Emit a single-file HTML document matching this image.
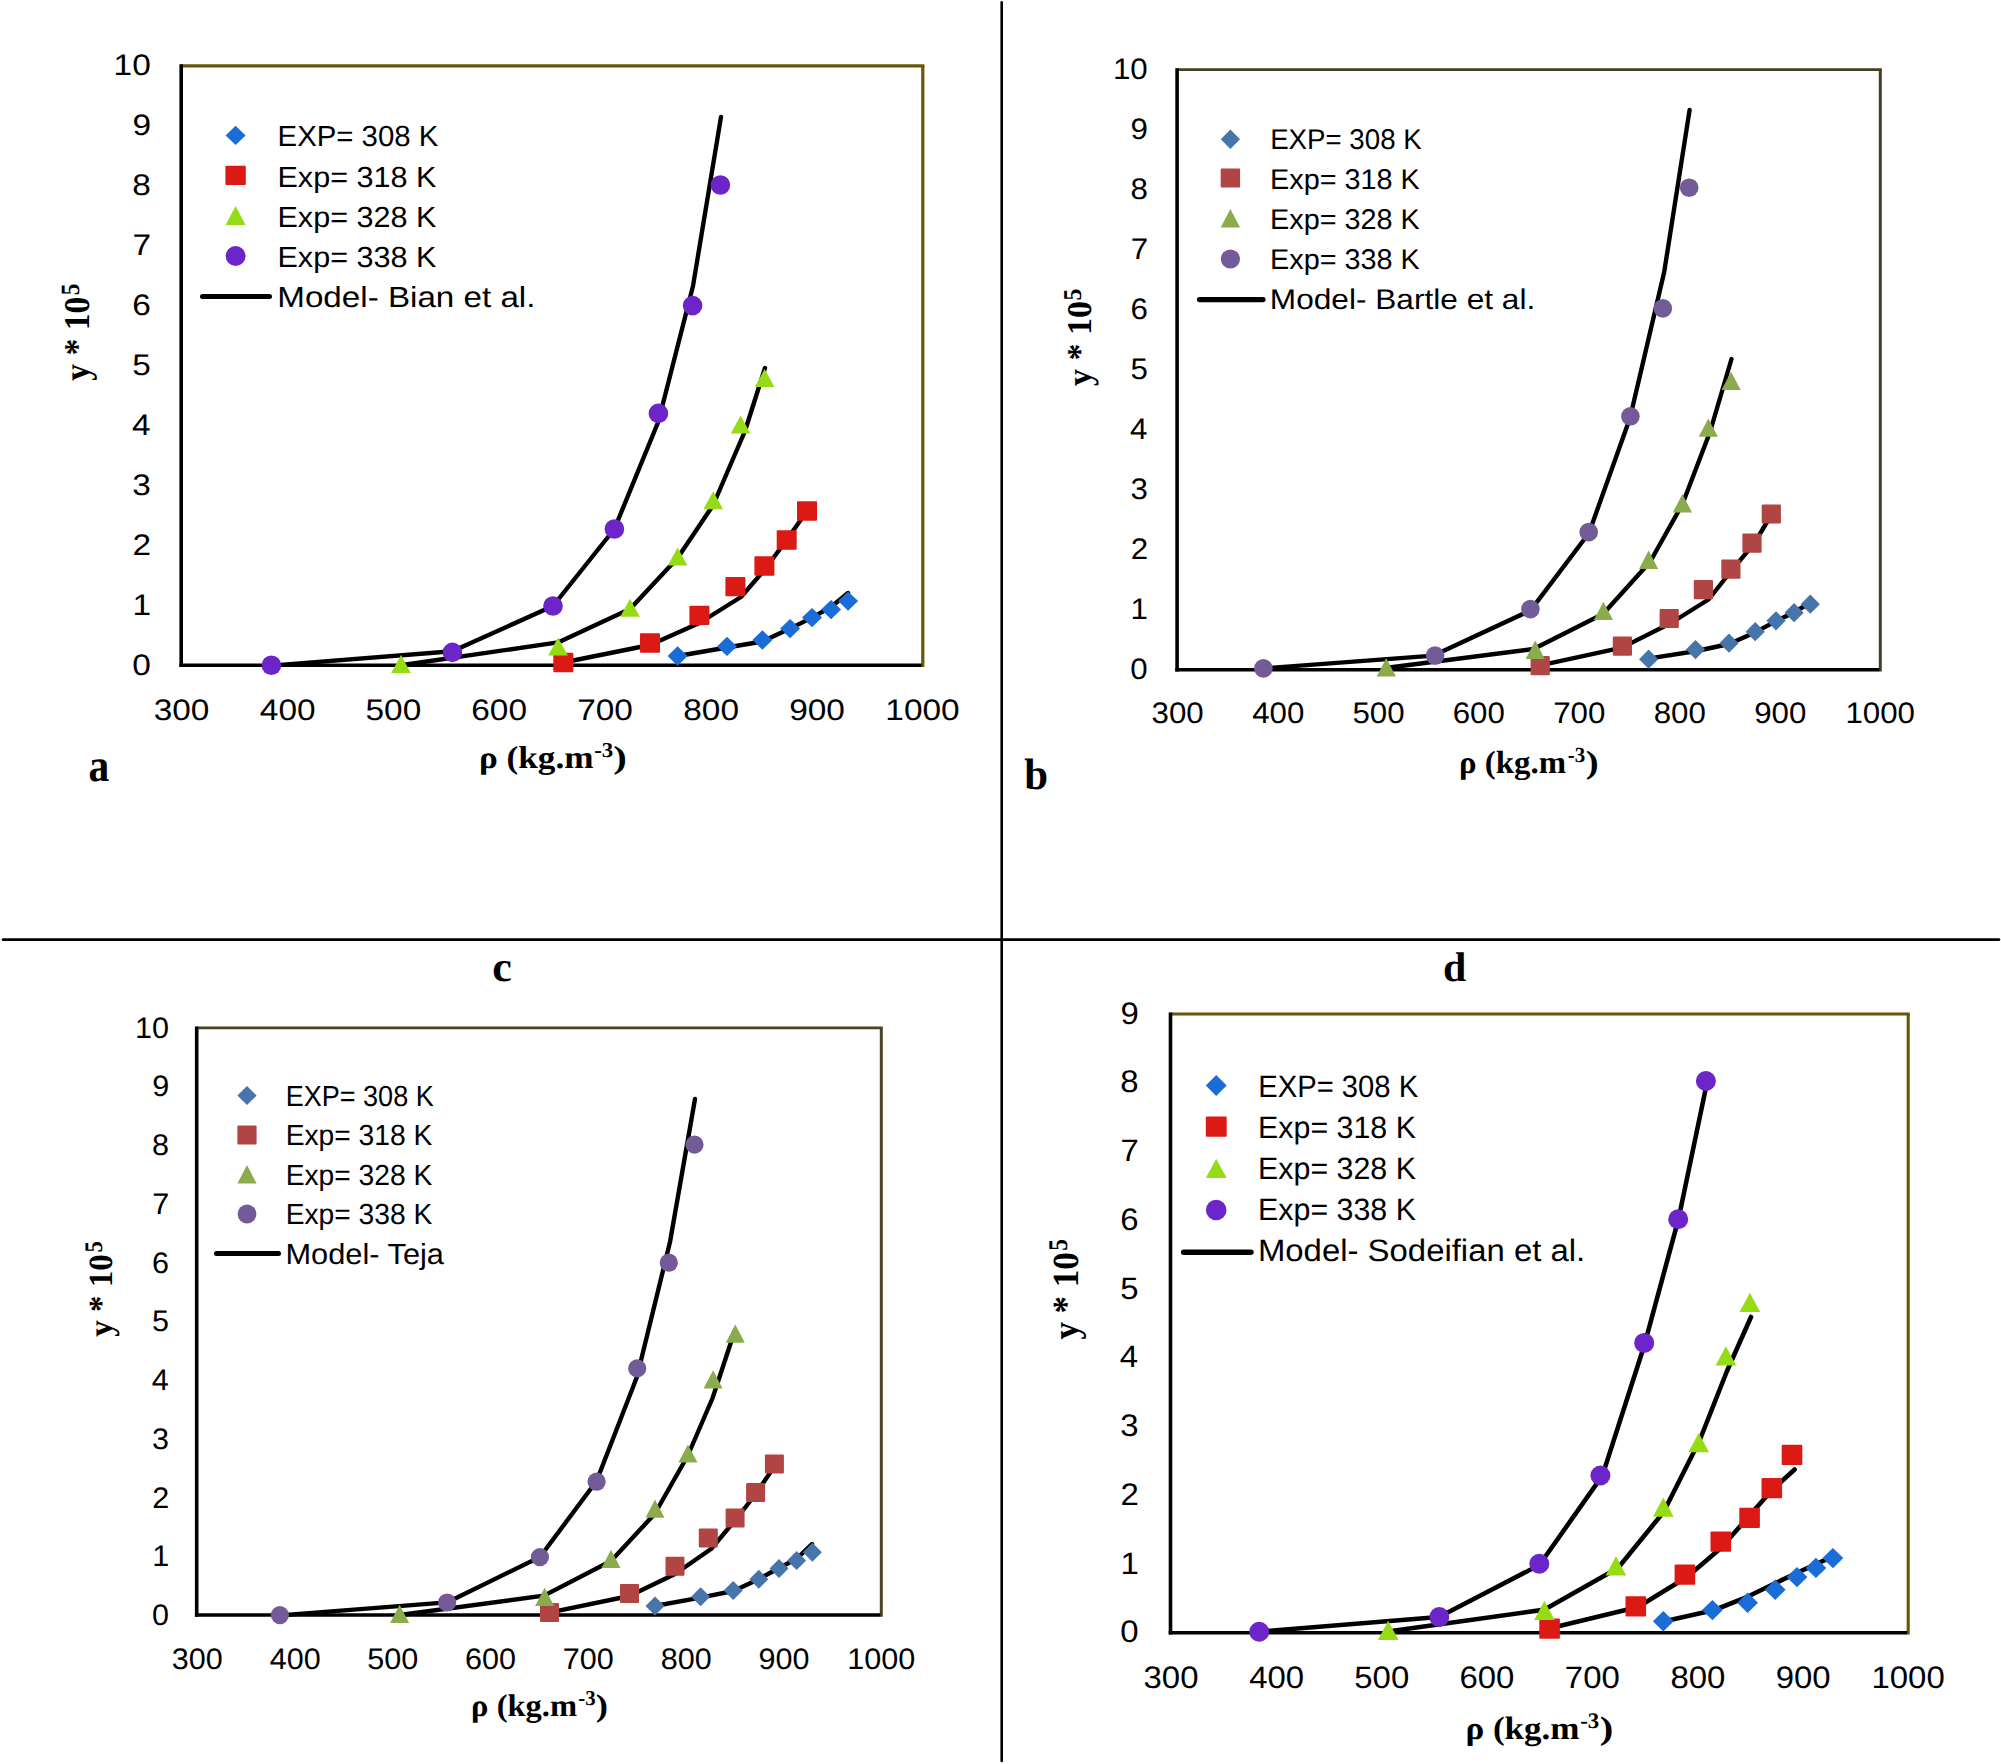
<!DOCTYPE html>
<html lang="en"><head><meta charset="utf-8"><title>Solubility vs density: model correlations</title>
<style>html,body{margin:0;padding:0;background:#fff}svg{display:block}text{white-space:pre}</style></head>
<body><svg width="2001" height="1764" viewBox="0 0 2001 1764" text-rendering="geometricPrecision">
<rect width="2001" height="1764" fill="#fff"/>
<g id="panel-a">
<line x1="181.20" y1="65.80" x2="924.40" y2="65.80" stroke="#685708" stroke-width="3.3" stroke-linecap="butt"/>
<line x1="922.80" y1="65.80" x2="922.80" y2="666.90" stroke="#685708" stroke-width="3.2" stroke-linecap="butt"/>
<line x1="181.20" y1="64.15" x2="181.20" y2="666.95" stroke="#000" stroke-width="3.6" stroke-linecap="butt"/>
<line x1="179.40" y1="665.20" x2="921.70" y2="665.20" stroke="#000" stroke-width="3.5" stroke-linecap="butt"/>
<polyline points="677.6,656.0 727.0,647.5 762.4,641.5 790.0,628.6 812.0,617.6 831.0,607.0 848.0,593.0" fill="none" stroke="#000" stroke-width="4.4" stroke-linejoin="round" stroke-linecap="round"/>
<polyline points="563.3,662.5 650.0,645.0 699.4,623.0 741.0,597.0 764.4,570.0 786.6,540.0 807.0,511.0" fill="none" stroke="#000" stroke-width="4.4" stroke-linejoin="round" stroke-linecap="round"/>
<polyline points="401.0,665.2 558.0,642.4 630.0,609.0 677.6,558.0 713.2,505.0 745.0,431.0 765.0,368.0" fill="none" stroke="#000" stroke-width="4.4" stroke-linejoin="round" stroke-linecap="round"/>
<polyline points="271.4,665.6 452.4,651.2 553.0,606.0 614.4,529.0 658.4,421.5 693.0,286.0 721.0,117.0" fill="none" stroke="#000" stroke-width="4.4" stroke-linejoin="round" stroke-linecap="round"/>
<polygon points="667.6,656.0 677.6,646.3 687.6,656.0 677.6,665.7" fill="#1a6dd6"/>
<polygon points="717.0,646.4 727.0,636.7 737.0,646.4 727.0,656.1" fill="#1a6dd6"/>
<polygon points="752.4,640.0 762.4,630.3 772.4,640.0 762.4,649.7" fill="#1a6dd6"/>
<polygon points="780.1,628.6 790.1,618.9 800.1,628.6 790.1,638.3" fill="#1a6dd6"/>
<polygon points="802.0,617.6 812.0,607.9 822.0,617.6 812.0,627.3" fill="#1a6dd6"/>
<polygon points="821.1,609.6 831.1,599.9 841.1,609.6 831.1,619.3" fill="#1a6dd6"/>
<polygon points="838.1,601.1 848.1,591.4 858.1,601.1 848.1,610.8" fill="#1a6dd6"/>
<rect x="553.3" y="652.8" width="20.0" height="19.4" rx="1" fill="#db1a16"/>
<rect x="640.0" y="633.3" width="20.0" height="19.4" rx="1" fill="#db1a16"/>
<rect x="689.4" y="605.7" width="20.0" height="19.4" rx="1" fill="#db1a16"/>
<rect x="725.4" y="576.9" width="20.0" height="19.4" rx="1" fill="#db1a16"/>
<rect x="754.4" y="556.3" width="20.0" height="19.4" rx="1" fill="#db1a16"/>
<rect x="776.7" y="530.3" width="20.0" height="19.4" rx="1" fill="#db1a16"/>
<rect x="797.0" y="501.3" width="20.0" height="19.4" rx="1" fill="#db1a16"/>
<polygon points="391.2,673.0 401.0,655.0 410.8,673.0" fill="#96dc14"/>
<polygon points="548.2,655.5 558.0,637.5 567.8,655.5" fill="#96dc14"/>
<polygon points="620.2,616.8 630.0,598.8 639.8,616.8" fill="#96dc14"/>
<polygon points="667.8,565.6 677.6,547.6 687.4,565.6" fill="#96dc14"/>
<polygon points="703.4,509.3 713.2,491.3 723.0,509.3" fill="#96dc14"/>
<polygon points="730.8,433.6 740.6,415.6 750.4,433.6" fill="#96dc14"/>
<polygon points="754.8,387.0 764.6,369.0 774.4,387.0" fill="#96dc14"/>
<circle cx="271.4" cy="665.2" r="9.8" fill="#6b25c8"/>
<circle cx="452.4" cy="652.4" r="9.8" fill="#6b25c8"/>
<circle cx="553.0" cy="606.0" r="9.8" fill="#6b25c8"/>
<circle cx="614.4" cy="529.0" r="9.8" fill="#6b25c8"/>
<circle cx="658.4" cy="413.4" r="9.8" fill="#6b25c8"/>
<circle cx="692.6" cy="305.6" r="9.8" fill="#6b25c8"/>
<circle cx="720.4" cy="185.0" r="9.8" fill="#6b25c8"/>
<text transform="translate(132.19,674.70) scale(1.1265,1)" font-family="'Liberation Sans',sans-serif" font-weight="normal" font-size="29.66" fill="#000">0</text>
<text transform="translate(132.53,614.76) scale(1.1265,1)" font-family="'Liberation Sans',sans-serif" font-weight="normal" font-size="29.66" fill="#000">1</text>
<text transform="translate(132.59,554.82) scale(1.1265,1)" font-family="'Liberation Sans',sans-serif" font-weight="normal" font-size="29.66" fill="#000">2</text>
<text transform="translate(132.36,494.88) scale(1.1265,1)" font-family="'Liberation Sans',sans-serif" font-weight="normal" font-size="29.66" fill="#000">3</text>
<text transform="translate(131.89,434.94) scale(1.1265,1)" font-family="'Liberation Sans',sans-serif" font-weight="normal" font-size="29.66" fill="#000">4</text>
<text transform="translate(132.29,375.00) scale(1.1265,1)" font-family="'Liberation Sans',sans-serif" font-weight="normal" font-size="29.66" fill="#000">5</text>
<text transform="translate(132.36,315.06) scale(1.1265,1)" font-family="'Liberation Sans',sans-serif" font-weight="normal" font-size="29.66" fill="#000">6</text>
<text transform="translate(132.59,255.12) scale(1.1265,1)" font-family="'Liberation Sans',sans-serif" font-weight="normal" font-size="29.66" fill="#000">7</text>
<text transform="translate(132.36,195.18) scale(1.1265,1)" font-family="'Liberation Sans',sans-serif" font-weight="normal" font-size="29.66" fill="#000">8</text>
<text transform="translate(132.49,135.24) scale(1.1265,1)" font-family="'Liberation Sans',sans-serif" font-weight="normal" font-size="29.66" fill="#000">9</text>
<text transform="translate(113.62,75.30) scale(1.1265,1)" font-family="'Liberation Sans',sans-serif" font-weight="normal" font-size="29.66" fill="#000">10</text>
<text transform="translate(153.63,720.20) scale(1.1265,1)" font-family="'Liberation Sans',sans-serif" font-weight="normal" font-size="29.66" fill="#000">300</text>
<text transform="translate(259.84,720.20) scale(1.1265,1)" font-family="'Liberation Sans',sans-serif" font-weight="normal" font-size="29.66" fill="#000">400</text>
<text transform="translate(365.49,720.20) scale(1.1265,1)" font-family="'Liberation Sans',sans-serif" font-weight="normal" font-size="29.66" fill="#000">500</text>
<text transform="translate(471.26,720.20) scale(1.1265,1)" font-family="'Liberation Sans',sans-serif" font-weight="normal" font-size="29.66" fill="#000">600</text>
<text transform="translate(577.19,720.20) scale(1.1265,1)" font-family="'Liberation Sans',sans-serif" font-weight="normal" font-size="29.66" fill="#000">700</text>
<text transform="translate(683.26,720.20) scale(1.1265,1)" font-family="'Liberation Sans',sans-serif" font-weight="normal" font-size="29.66" fill="#000">800</text>
<text transform="translate(789.16,720.20) scale(1.1265,1)" font-family="'Liberation Sans',sans-serif" font-weight="normal" font-size="29.66" fill="#000">900</text>
<text transform="translate(885.31,720.20) scale(1.1265,1)" font-family="'Liberation Sans',sans-serif" font-weight="normal" font-size="29.66" fill="#000">1000</text>
<polygon points="225.6,135.4 235.6,125.7 245.6,135.4 235.6,145.1" fill="#1a6dd6"/>
<rect x="225.4" y="165.8" width="20.4" height="19.2" rx="1" fill="#db1a16"/>
<polygon points="225.6,225.0 235.6,206.0 245.6,225.0" fill="#96dc14"/>
<circle cx="235.6" cy="256.0" r="10.0" fill="#6b25c8"/>
<line x1="202.50" y1="296.60" x2="269.50" y2="296.60" stroke="#000" stroke-width="5" stroke-linecap="round"/>
<text transform="translate(277.59,146.00) scale(1.0097,1)" font-family="'Liberation Sans',sans-serif" font-weight="normal" font-size="29.07" fill="#000">EXP= 308 K</text>
<text transform="translate(277.49,186.50) scale(1.0512,1)" font-family="'Liberation Sans',sans-serif" font-weight="normal" font-size="29.07" fill="#000">Exp= 318 K</text>
<text transform="translate(277.49,226.80) scale(1.0512,1)" font-family="'Liberation Sans',sans-serif" font-weight="normal" font-size="29.07" fill="#000">Exp= 328 K</text>
<text transform="translate(277.49,267.00) scale(1.0512,1)" font-family="'Liberation Sans',sans-serif" font-weight="normal" font-size="29.07" fill="#000">Exp= 338 K</text>
<text transform="translate(277.28,307.00) scale(1.1415,1)" font-family="'Liberation Sans',sans-serif" font-weight="normal" font-size="29.07" fill="#000">Model- Bian et al.</text>
<text transform="translate(89.00,380.80) rotate(-90) scale(0.9288,1)" font-family="'Liberation Serif',serif" font-weight="bold" font-size="36.21" fill="#000">y * 10</text>
<text transform="translate(78.70,295.23) rotate(-90) scale(0.8840,1)" font-family="'Liberation Serif',serif" font-weight="bold" font-size="26.41" fill="#000">5</text>
<text transform="translate(478.92,768.00) scale(1.1107,1)" font-family="'Liberation Serif',serif" font-weight="bold" font-size="31.70" fill="#000">ρ (kg.m</text>
<text transform="translate(594.17,756.50) scale(1.0845,1)" font-family="'Liberation Serif',serif" font-weight="bold" font-size="21.15" fill="#000">-3</text>
<text transform="translate(613.20,768.00) scale(1.2838,1)" font-family="'Liberation Serif',serif" font-weight="bold" font-size="31.70" fill="#000">)</text>
<text transform="translate(88.47,780.70) scale(0.8970,1)" font-family="'Liberation Serif',serif" font-weight="bold" font-size="46.27" fill="#000">a</text>
</g>
<g id="panel-b">
<line x1="1177.10" y1="69.70" x2="1881.80" y2="69.70" stroke="#453f22" stroke-width="2.7" stroke-linecap="butt"/>
<line x1="1880.30" y1="69.70" x2="1880.30" y2="671.40" stroke="#453f22" stroke-width="3.0" stroke-linecap="butt"/>
<line x1="1177.10" y1="68.35" x2="1177.10" y2="671.45" stroke="#000" stroke-width="3.6" stroke-linecap="butt"/>
<line x1="1175.30" y1="669.70" x2="1879.30" y2="669.70" stroke="#000" stroke-width="3.5" stroke-linecap="butt"/>
<polyline points="1648.0,658.6 1696.6,651.0 1729.0,644.0 1755.0,632.4 1775.6,621.4 1793.4,612.5 1810.0,603.0" fill="none" stroke="#000" stroke-width="4.4" stroke-linejoin="round" stroke-linecap="round"/>
<polyline points="1539.0,665.6 1622.0,647.6 1671.0,623.0 1708.5,599.5 1732.0,570.0 1754.5,543.0 1770.0,517.0" fill="none" stroke="#000" stroke-width="4.4" stroke-linejoin="round" stroke-linecap="round"/>
<polyline points="1385.4,668.0 1533.6,649.0 1603.0,614.0 1650.0,562.0 1682.5,504.0 1710.0,432.0 1731.5,359.0" fill="none" stroke="#000" stroke-width="4.4" stroke-linejoin="round" stroke-linecap="round"/>
<polyline points="1263.0,668.4 1433.6,655.6 1530.6,610.4 1589.0,533.0 1630.0,418.0 1664.2,272.0 1689.6,110.0" fill="none" stroke="#000" stroke-width="4.4" stroke-linejoin="round" stroke-linecap="round"/>
<polygon points="1639.0,659.2 1648.6,649.6 1658.2,659.2 1648.6,668.8" fill="#4674ab"/>
<polygon points="1685.9,649.6 1695.5,640.0 1705.1,649.6 1695.5,659.2" fill="#4674ab"/>
<polygon points="1719.4,643.2 1729.0,633.6 1738.6,643.2 1729.0,652.8" fill="#4674ab"/>
<polygon points="1745.6,631.7 1755.2,622.1 1764.8,631.7 1755.2,641.3" fill="#4674ab"/>
<polygon points="1766.4,620.8 1776.0,611.2 1785.6,620.8 1776.0,630.4" fill="#4674ab"/>
<polygon points="1784.5,612.7 1794.1,603.1 1803.7,612.7 1794.1,622.3" fill="#4674ab"/>
<polygon points="1800.7,604.2 1810.3,594.6 1819.9,604.2 1810.3,613.8" fill="#4674ab"/>
<rect x="1530.6" y="656.1" width="19.2" height="19.2" rx="1" fill="#b04543"/>
<rect x="1612.8" y="636.6" width="19.2" height="19.2" rx="1" fill="#b04543"/>
<rect x="1659.6" y="608.9" width="19.2" height="19.2" rx="1" fill="#b04543"/>
<rect x="1693.8" y="580.1" width="19.2" height="19.2" rx="1" fill="#b04543"/>
<rect x="1721.3" y="559.5" width="19.2" height="19.2" rx="1" fill="#b04543"/>
<rect x="1742.4" y="533.5" width="19.2" height="19.2" rx="1" fill="#b04543"/>
<rect x="1761.7" y="504.4" width="19.2" height="19.2" rx="1" fill="#b04543"/>
<polygon points="1376.7,676.4 1386.3,658.0 1395.9,676.4" fill="#8cab4c"/>
<polygon points="1525.6,658.9 1535.2,640.5 1544.8,658.9" fill="#8cab4c"/>
<polygon points="1593.8,620.1 1603.4,601.7 1613.0,620.1" fill="#8cab4c"/>
<polygon points="1639.0,568.9 1648.6,550.5 1658.2,568.9" fill="#8cab4c"/>
<polygon points="1672.8,512.5 1682.4,494.1 1692.0,512.5" fill="#8cab4c"/>
<polygon points="1698.7,436.8 1708.3,418.4 1717.9,436.8" fill="#8cab4c"/>
<polygon points="1721.5,390.1 1731.1,371.7 1740.7,390.1" fill="#8cab4c"/>
<circle cx="1263.4" cy="668.4" r="9.3" fill="#735b98"/>
<circle cx="1435.1" cy="655.6" r="9.3" fill="#735b98"/>
<circle cx="1530.4" cy="609.1" r="9.3" fill="#735b98"/>
<circle cx="1588.7" cy="532.1" r="9.3" fill="#735b98"/>
<circle cx="1630.4" cy="416.3" r="9.3" fill="#735b98"/>
<circle cx="1662.8" cy="308.4" r="9.3" fill="#735b98"/>
<circle cx="1689.2" cy="187.7" r="9.3" fill="#735b98"/>
<text transform="translate(1130.30,679.40) scale(1.0546,1)" font-family="'Liberation Sans',sans-serif" font-weight="normal" font-size="29.66" fill="#000">0</text>
<text transform="translate(1130.61,619.40) scale(1.0546,1)" font-family="'Liberation Sans',sans-serif" font-weight="normal" font-size="29.66" fill="#000">1</text>
<text transform="translate(1130.67,559.40) scale(1.0546,1)" font-family="'Liberation Sans',sans-serif" font-weight="normal" font-size="29.66" fill="#000">2</text>
<text transform="translate(1130.45,499.40) scale(1.0546,1)" font-family="'Liberation Sans',sans-serif" font-weight="normal" font-size="29.66" fill="#000">3</text>
<text transform="translate(1130.02,439.40) scale(1.0546,1)" font-family="'Liberation Sans',sans-serif" font-weight="normal" font-size="29.66" fill="#000">4</text>
<text transform="translate(1130.39,379.40) scale(1.0546,1)" font-family="'Liberation Sans',sans-serif" font-weight="normal" font-size="29.66" fill="#000">5</text>
<text transform="translate(1130.45,319.40) scale(1.0546,1)" font-family="'Liberation Sans',sans-serif" font-weight="normal" font-size="29.66" fill="#000">6</text>
<text transform="translate(1130.67,259.40) scale(1.0546,1)" font-family="'Liberation Sans',sans-serif" font-weight="normal" font-size="29.66" fill="#000">7</text>
<text transform="translate(1130.45,199.40) scale(1.0546,1)" font-family="'Liberation Sans',sans-serif" font-weight="normal" font-size="29.66" fill="#000">8</text>
<text transform="translate(1130.58,139.40) scale(1.0546,1)" font-family="'Liberation Sans',sans-serif" font-weight="normal" font-size="29.66" fill="#000">9</text>
<text transform="translate(1112.91,79.40) scale(1.0546,1)" font-family="'Liberation Sans',sans-serif" font-weight="normal" font-size="29.66" fill="#000">10</text>
<text transform="translate(1151.51,723.40) scale(1.0546,1)" font-family="'Liberation Sans',sans-serif" font-weight="normal" font-size="29.66" fill="#000">300</text>
<text transform="translate(1252.22,723.40) scale(1.0546,1)" font-family="'Liberation Sans',sans-serif" font-weight="normal" font-size="29.66" fill="#000">400</text>
<text transform="translate(1352.40,723.40) scale(1.0546,1)" font-family="'Liberation Sans',sans-serif" font-weight="normal" font-size="29.66" fill="#000">500</text>
<text transform="translate(1452.70,723.40) scale(1.0546,1)" font-family="'Liberation Sans',sans-serif" font-weight="normal" font-size="29.66" fill="#000">600</text>
<text transform="translate(1553.14,723.40) scale(1.0546,1)" font-family="'Liberation Sans',sans-serif" font-weight="normal" font-size="29.66" fill="#000">700</text>
<text transform="translate(1653.72,723.40) scale(1.0546,1)" font-family="'Liberation Sans',sans-serif" font-weight="normal" font-size="29.66" fill="#000">800</text>
<text transform="translate(1754.13,723.40) scale(1.0546,1)" font-family="'Liberation Sans',sans-serif" font-weight="normal" font-size="29.66" fill="#000">900</text>
<text transform="translate(1845.42,723.40) scale(1.0546,1)" font-family="'Liberation Sans',sans-serif" font-weight="normal" font-size="29.66" fill="#000">1000</text>
<polygon points="1220.8,139.2 1230.4,129.5 1240.0,139.2 1230.4,148.9" fill="#4674ab"/>
<rect x="1220.7" y="168.4" width="19.4" height="19.2" rx="1" fill="#b04543"/>
<polygon points="1220.7,227.6 1230.4,209.0 1240.1,227.6" fill="#8cab4c"/>
<circle cx="1230.4" cy="259.0" r="9.6" fill="#735b98"/>
<line x1="1199.50" y1="299.60" x2="1263.00" y2="299.60" stroke="#000" stroke-width="5.2" stroke-linecap="round"/>
<text transform="translate(1270.13,148.60) scale(0.9716,1)" font-family="'Liberation Sans',sans-serif" font-weight="normal" font-size="28.49" fill="#000">EXP= 308 K</text>
<text transform="translate(1270.04,188.60) scale(1.0108,1)" font-family="'Liberation Sans',sans-serif" font-weight="normal" font-size="28.49" fill="#000">Exp= 318 K</text>
<text transform="translate(1270.04,228.60) scale(1.0108,1)" font-family="'Liberation Sans',sans-serif" font-weight="normal" font-size="28.49" fill="#000">Exp= 328 K</text>
<text transform="translate(1270.04,268.60) scale(1.0108,1)" font-family="'Liberation Sans',sans-serif" font-weight="normal" font-size="28.49" fill="#000">Exp= 338 K</text>
<text transform="translate(1269.81,309.00) scale(1.1103,1)" font-family="'Liberation Sans',sans-serif" font-weight="normal" font-size="28.49" fill="#000">Model- Bartle et al.</text>
<text transform="translate(1090.50,386.01) rotate(-90) scale(0.9787,1)" font-family="'Liberation Serif',serif" font-weight="bold" font-size="34.70" fill="#000">y * 10</text>
<text transform="translate(1080.90,300.44) rotate(-90) scale(0.9141,1)" font-family="'Liberation Serif',serif" font-weight="bold" font-size="25.80" fill="#000">5</text>
<text transform="translate(1459.06,773.20) scale(1.0270,1)" font-family="'Liberation Serif',serif" font-weight="bold" font-size="31.99" fill="#000">ρ (kg.m</text>
<text transform="translate(1567.75,761.50) scale(0.9708,1)" font-family="'Liberation Serif',serif" font-weight="bold" font-size="21.60" fill="#000">-3</text>
<text transform="translate(1585.76,773.20) scale(1.2117,1)" font-family="'Liberation Serif',serif" font-weight="bold" font-size="31.99" fill="#000">)</text>
<text transform="translate(1024.29,788.50) scale(0.9752,1)" font-family="'Liberation Serif',serif" font-weight="bold" font-size="43.95" fill="#000">b</text>
</g>
<g id="panel-c">
<line x1="196.70" y1="1027.80" x2="882.80" y2="1027.80" stroke="#4a4425" stroke-width="2.7" stroke-linecap="butt"/>
<line x1="881.30" y1="1027.80" x2="881.30" y2="1616.80" stroke="#4a4425" stroke-width="3.0" stroke-linecap="butt"/>
<line x1="196.70" y1="1026.45" x2="196.70" y2="1616.85" stroke="#000" stroke-width="3.6" stroke-linecap="butt"/>
<line x1="194.90" y1="1615.10" x2="880.30" y2="1615.10" stroke="#000" stroke-width="3.5" stroke-linecap="butt"/>
<polyline points="654.6,1606.0 700.4,1597.6 733.6,1591.0 759.0,1579.0 779.0,1568.0 796.4,1559.0 812.0,1544.0" fill="none" stroke="#000" stroke-width="4.4" stroke-linejoin="round" stroke-linecap="round"/>
<polyline points="549.2,1612.6 629.4,1596.0 675.0,1574.0 711.0,1549.0 735.0,1520.5 755.0,1495.0 772.0,1470.0" fill="none" stroke="#000" stroke-width="4.4" stroke-linejoin="round" stroke-linecap="round"/>
<polyline points="400.0,1615.0 544.0,1595.6 611.0,1561.0 654.6,1514.0 687.6,1456.0 712.6,1398.0 735.0,1330.0" fill="none" stroke="#000" stroke-width="4.4" stroke-linejoin="round" stroke-linecap="round"/>
<polyline points="280.0,1615.4 447.0,1602.4 540.0,1557.0 596.6,1481.0 637.0,1376.7 670.0,1242.0 695.0,1099.0" fill="none" stroke="#000" stroke-width="4.4" stroke-linejoin="round" stroke-linecap="round"/>
<polygon points="645.5,1606.1 655.0,1596.6 664.5,1606.1 655.0,1615.6" fill="#4674ab"/>
<polygon points="691.1,1596.7 700.6,1587.2 710.1,1596.7 700.6,1606.2" fill="#4674ab"/>
<polygon points="723.7,1590.4 733.2,1580.9 742.7,1590.4 733.2,1599.9" fill="#4674ab"/>
<polygon points="749.3,1579.2 758.8,1569.7 768.3,1579.2 758.8,1588.7" fill="#4674ab"/>
<polygon points="769.5,1568.5 779.0,1559.0 788.5,1568.5 779.0,1578.0" fill="#4674ab"/>
<polygon points="787.1,1560.6 796.6,1551.1 806.1,1560.6 796.6,1570.1" fill="#4674ab"/>
<polygon points="802.9,1552.3 812.4,1542.8 821.9,1552.3 812.4,1561.8" fill="#4674ab"/>
<rect x="540.0" y="1603.0" width="19.0" height="19.0" rx="1" fill="#b04543"/>
<rect x="620.0" y="1583.9" width="19.0" height="19.0" rx="1" fill="#b04543"/>
<rect x="665.5" y="1556.8" width="19.0" height="19.0" rx="1" fill="#b04543"/>
<rect x="698.8" y="1528.6" width="19.0" height="19.0" rx="1" fill="#b04543"/>
<rect x="725.6" y="1508.4" width="19.0" height="19.0" rx="1" fill="#b04543"/>
<rect x="746.1" y="1482.9" width="19.0" height="19.0" rx="1" fill="#b04543"/>
<rect x="764.9" y="1454.5" width="19.0" height="19.0" rx="1" fill="#b04543"/>
<polygon points="390.1,1623.0 399.6,1604.8 409.1,1623.0" fill="#8cab4c"/>
<polygon points="535.1,1605.9 544.6,1587.7 554.1,1605.9" fill="#8cab4c"/>
<polygon points="601.5,1567.9 611.0,1549.7 620.5,1567.9" fill="#8cab4c"/>
<polygon points="645.5,1517.8 655.0,1499.6 664.5,1517.8" fill="#8cab4c"/>
<polygon points="678.4,1462.6 687.9,1444.4 697.4,1462.6" fill="#8cab4c"/>
<polygon points="703.6,1388.5 713.1,1370.3 722.6,1388.5" fill="#8cab4c"/>
<polygon points="725.8,1342.8 735.3,1324.6 744.8,1342.8" fill="#8cab4c"/>
<circle cx="279.9" cy="1615.1" r="9.1" fill="#735b98"/>
<circle cx="447.1" cy="1602.5" r="9.1" fill="#735b98"/>
<circle cx="539.9" cy="1557.1" r="9.1" fill="#735b98"/>
<circle cx="596.6" cy="1481.7" r="9.1" fill="#735b98"/>
<circle cx="637.2" cy="1368.4" r="9.1" fill="#735b98"/>
<circle cx="668.8" cy="1262.7" r="9.1" fill="#735b98"/>
<circle cx="694.5" cy="1144.6" r="9.1" fill="#735b98"/>
<text transform="translate(151.97,1625.00) scale(1.0306,1)" font-family="'Liberation Sans',sans-serif" font-weight="normal" font-size="29.66" fill="#000">0</text>
<text transform="translate(152.27,1566.27) scale(1.0306,1)" font-family="'Liberation Sans',sans-serif" font-weight="normal" font-size="29.66" fill="#000">1</text>
<text transform="translate(152.33,1507.54) scale(1.0306,1)" font-family="'Liberation Sans',sans-serif" font-weight="normal" font-size="29.66" fill="#000">2</text>
<text transform="translate(152.12,1448.81) scale(1.0306,1)" font-family="'Liberation Sans',sans-serif" font-weight="normal" font-size="29.66" fill="#000">3</text>
<text transform="translate(151.69,1390.08) scale(1.0306,1)" font-family="'Liberation Sans',sans-serif" font-weight="normal" font-size="29.66" fill="#000">4</text>
<text transform="translate(152.06,1331.35) scale(1.0306,1)" font-family="'Liberation Sans',sans-serif" font-weight="normal" font-size="29.66" fill="#000">5</text>
<text transform="translate(152.12,1272.62) scale(1.0306,1)" font-family="'Liberation Sans',sans-serif" font-weight="normal" font-size="29.66" fill="#000">6</text>
<text transform="translate(152.33,1213.89) scale(1.0306,1)" font-family="'Liberation Sans',sans-serif" font-weight="normal" font-size="29.66" fill="#000">7</text>
<text transform="translate(152.12,1155.16) scale(1.0306,1)" font-family="'Liberation Sans',sans-serif" font-weight="normal" font-size="29.66" fill="#000">8</text>
<text transform="translate(152.24,1096.43) scale(1.0306,1)" font-family="'Liberation Sans',sans-serif" font-weight="normal" font-size="29.66" fill="#000">9</text>
<text transform="translate(134.97,1037.70) scale(1.0306,1)" font-family="'Liberation Sans',sans-serif" font-weight="normal" font-size="29.66" fill="#000">10</text>
<text transform="translate(171.71,1669.20) scale(1.0306,1)" font-family="'Liberation Sans',sans-serif" font-weight="normal" font-size="29.66" fill="#000">300</text>
<text transform="translate(269.75,1669.20) scale(1.0306,1)" font-family="'Liberation Sans',sans-serif" font-weight="normal" font-size="29.66" fill="#000">400</text>
<text transform="translate(367.28,1669.20) scale(1.0306,1)" font-family="'Liberation Sans',sans-serif" font-weight="normal" font-size="29.66" fill="#000">500</text>
<text transform="translate(464.92,1669.20) scale(1.0306,1)" font-family="'Liberation Sans',sans-serif" font-weight="normal" font-size="29.66" fill="#000">600</text>
<text transform="translate(562.71,1669.20) scale(1.0306,1)" font-family="'Liberation Sans',sans-serif" font-weight="normal" font-size="29.66" fill="#000">700</text>
<text transform="translate(660.63,1669.20) scale(1.0306,1)" font-family="'Liberation Sans',sans-serif" font-weight="normal" font-size="29.66" fill="#000">800</text>
<text transform="translate(758.38,1669.20) scale(1.0306,1)" font-family="'Liberation Sans',sans-serif" font-weight="normal" font-size="29.66" fill="#000">900</text>
<text transform="translate(847.23,1669.20) scale(1.0306,1)" font-family="'Liberation Sans',sans-serif" font-weight="normal" font-size="29.66" fill="#000">1000</text>
<polygon points="237.4,1095.6 247.0,1086.1 256.6,1095.6 247.0,1105.1" fill="#4674ab"/>
<rect x="237.4" y="1125.6" width="19.2" height="18.8" rx="1" fill="#b04543"/>
<polygon points="237.4,1183.6 247.0,1165.0 256.6,1183.6" fill="#8cab4c"/>
<circle cx="247.0" cy="1214.0" r="9.4" fill="#735b98"/>
<line x1="216.50" y1="1253.60" x2="278.50" y2="1253.60" stroke="#000" stroke-width="5" stroke-linecap="round"/>
<text transform="translate(285.79,1106.00) scale(0.9292,1)" font-family="'Liberation Sans',sans-serif" font-weight="normal" font-size="29.07" fill="#000">EXP= 308 K</text>
<text transform="translate(285.69,1145.40) scale(0.9703,1)" font-family="'Liberation Sans',sans-serif" font-weight="normal" font-size="29.07" fill="#000">Exp= 318 K</text>
<text transform="translate(285.69,1184.60) scale(0.9703,1)" font-family="'Liberation Sans',sans-serif" font-weight="normal" font-size="29.07" fill="#000">Exp= 328 K</text>
<text transform="translate(285.69,1224.00) scale(0.9703,1)" font-family="'Liberation Sans',sans-serif" font-weight="normal" font-size="29.07" fill="#000">Exp= 338 K</text>
<text transform="translate(285.48,1263.60) scale(1.0585,1)" font-family="'Liberation Sans',sans-serif" font-weight="normal" font-size="29.07" fill="#000">Model- Teja</text>
<text transform="translate(111.90,1336.70) rotate(-90) scale(0.9729,1)" font-family="'Liberation Serif',serif" font-weight="bold" font-size="33.94" fill="#000">y * 10</text>
<text transform="translate(102.40,1252.61) rotate(-90) scale(0.8934,1)" font-family="'Liberation Serif',serif" font-weight="bold" font-size="25.34" fill="#000">5</text>
<text transform="translate(471.08,1716.20) scale(1.0406,1)" font-family="'Liberation Serif',serif" font-weight="bold" font-size="31.27" fill="#000">ρ (kg.m</text>
<text transform="translate(578.25,1705.00) scale(0.9916,1)" font-family="'Liberation Serif',serif" font-weight="bold" font-size="21.15" fill="#000">-3</text>
<text transform="translate(595.82,1716.20) scale(1.1776,1)" font-family="'Liberation Serif',serif" font-weight="bold" font-size="31.27" fill="#000">)</text>
<text transform="translate(492.30,980.50) scale(1.0347,1)" font-family="'Liberation Serif',serif" font-weight="bold" font-size="42.68" fill="#000">c</text>
</g>
<g id="panel-d">
<line x1="1170.50" y1="1014.00" x2="1909.75" y2="1014.00" stroke="#685708" stroke-width="3.2" stroke-linecap="butt"/>
<line x1="1908.20" y1="1014.00" x2="1908.20" y2="1634.40" stroke="#685708" stroke-width="3.1" stroke-linecap="butt"/>
<line x1="1170.50" y1="1012.40" x2="1170.50" y2="1634.45" stroke="#000" stroke-width="3.6" stroke-linecap="butt"/>
<line x1="1168.70" y1="1632.70" x2="1907.15" y2="1632.70" stroke="#000" stroke-width="3.5" stroke-linecap="butt"/>
<polyline points="1663.5,1621.5 1714.5,1610.0 1748.5,1596.3 1775.7,1583.0 1797.8,1572.5 1816.5,1563.8 1833.5,1556.2" fill="none" stroke="#000" stroke-width="4.6" stroke-linejoin="round" stroke-linecap="round"/>
<polyline points="1549.2,1628.4 1638.0,1607.0 1687.0,1577.0 1721.0,1548.0 1750.0,1515.0 1772.0,1490.0 1794.6,1469.5" fill="none" stroke="#000" stroke-width="4.6" stroke-linejoin="round" stroke-linecap="round"/>
<polyline points="1388.0,1631.5 1544.6,1609.6 1618.0,1568.0 1663.6,1512.0 1699.4,1441.0 1727.0,1371.0 1751.0,1317.0" fill="none" stroke="#000" stroke-width="4.6" stroke-linejoin="round" stroke-linecap="round"/>
<polyline points="1259.0,1631.6 1439.0,1617.0 1539.4,1565.0 1602.4,1475.6 1644.4,1345.0 1678.6,1218.6 1707.4,1080.6" fill="none" stroke="#000" stroke-width="4.6" stroke-linejoin="round" stroke-linecap="round"/>
<polygon points="1652.9,1621.2 1663.3,1611.0 1673.7,1621.2 1663.3,1631.4" fill="#1a6dd6"/>
<polygon points="1702.0,1610.1 1712.4,1599.9 1722.8,1610.1 1712.4,1620.3" fill="#1a6dd6"/>
<polygon points="1737.2,1602.8 1747.6,1592.6 1758.0,1602.8 1747.6,1613.0" fill="#1a6dd6"/>
<polygon points="1764.8,1589.7 1775.2,1579.5 1785.6,1589.7 1775.2,1599.9" fill="#1a6dd6"/>
<polygon points="1786.6,1577.1 1797.0,1566.9 1807.4,1577.1 1797.0,1587.3" fill="#1a6dd6"/>
<polygon points="1805.5,1567.9 1815.9,1557.7 1826.3,1567.9 1815.9,1578.1" fill="#1a6dd6"/>
<polygon points="1822.5,1558.1 1832.9,1547.9 1843.3,1558.1 1832.9,1568.3" fill="#1a6dd6"/>
<rect x="1539.3" y="1618.5" width="20.6" height="20.2" rx="1" fill="#db1a16"/>
<rect x="1625.5" y="1596.2" width="20.6" height="20.2" rx="1" fill="#db1a16"/>
<rect x="1674.6" y="1564.5" width="20.6" height="20.2" rx="1" fill="#db1a16"/>
<rect x="1710.5" y="1531.5" width="20.6" height="20.2" rx="1" fill="#db1a16"/>
<rect x="1739.3" y="1507.8" width="20.6" height="20.2" rx="1" fill="#db1a16"/>
<rect x="1761.5" y="1478.0" width="20.6" height="20.2" rx="1" fill="#db1a16"/>
<rect x="1781.7" y="1444.7" width="20.6" height="20.2" rx="1" fill="#db1a16"/>
<polygon points="1377.9,1639.9 1388.2,1620.7 1398.5,1639.9" fill="#96dc14"/>
<polygon points="1534.1,1619.9 1544.4,1600.7 1554.7,1619.9" fill="#96dc14"/>
<polygon points="1605.6,1575.4 1615.9,1556.2 1626.2,1575.4" fill="#96dc14"/>
<polygon points="1653.0,1516.7 1663.3,1497.5 1673.6,1516.7" fill="#96dc14"/>
<polygon points="1688.4,1452.2 1698.7,1433.0 1709.0,1452.2" fill="#96dc14"/>
<polygon points="1715.6,1365.4 1725.9,1346.2 1736.2,1365.4" fill="#96dc14"/>
<polygon points="1739.6,1311.9 1749.9,1292.7 1760.2,1311.9" fill="#96dc14"/>
<circle cx="1259.2" cy="1631.7" r="10.0" fill="#6b25c8"/>
<circle cx="1439.3" cy="1617.0" r="10.0" fill="#6b25c8"/>
<circle cx="1539.3" cy="1563.8" r="10.0" fill="#6b25c8"/>
<circle cx="1600.4" cy="1475.5" r="10.0" fill="#6b25c8"/>
<circle cx="1644.2" cy="1342.9" r="10.0" fill="#6b25c8"/>
<circle cx="1678.2" cy="1219.2" r="10.0" fill="#6b25c8"/>
<circle cx="1705.9" cy="1081.0" r="10.0" fill="#6b25c8"/>
<text transform="translate(1120.14,1642.39) scale(1.0600,1)" font-family="'Liberation Sans',sans-serif" font-weight="normal" font-size="31.07" fill="#000">0</text>
<text transform="translate(1120.47,1573.64) scale(1.0600,1)" font-family="'Liberation Sans',sans-serif" font-weight="normal" font-size="31.07" fill="#000">1</text>
<text transform="translate(1120.53,1504.90) scale(1.0600,1)" font-family="'Liberation Sans',sans-serif" font-weight="normal" font-size="31.07" fill="#000">2</text>
<text transform="translate(1120.30,1436.16) scale(1.0600,1)" font-family="'Liberation Sans',sans-serif" font-weight="normal" font-size="31.07" fill="#000">3</text>
<text transform="translate(1119.84,1367.41) scale(1.0600,1)" font-family="'Liberation Sans',sans-serif" font-weight="normal" font-size="31.07" fill="#000">4</text>
<text transform="translate(1120.24,1298.67) scale(1.0600,1)" font-family="'Liberation Sans',sans-serif" font-weight="normal" font-size="31.07" fill="#000">5</text>
<text transform="translate(1120.30,1229.92) scale(1.0600,1)" font-family="'Liberation Sans',sans-serif" font-weight="normal" font-size="31.07" fill="#000">6</text>
<text transform="translate(1120.53,1161.18) scale(1.0600,1)" font-family="'Liberation Sans',sans-serif" font-weight="normal" font-size="31.07" fill="#000">7</text>
<text transform="translate(1120.30,1092.43) scale(1.0600,1)" font-family="'Liberation Sans',sans-serif" font-weight="normal" font-size="31.07" fill="#000">8</text>
<text transform="translate(1120.43,1023.69) scale(1.0600,1)" font-family="'Liberation Sans',sans-serif" font-weight="normal" font-size="31.07" fill="#000">9</text>
<text transform="translate(1143.53,1688.19) scale(1.0600,1)" font-family="'Liberation Sans',sans-serif" font-weight="normal" font-size="31.07" fill="#000">300</text>
<text transform="translate(1249.18,1688.19) scale(1.0600,1)" font-family="'Liberation Sans',sans-serif" font-weight="normal" font-size="31.07" fill="#000">400</text>
<text transform="translate(1354.27,1688.19) scale(1.0600,1)" font-family="'Liberation Sans',sans-serif" font-weight="normal" font-size="31.07" fill="#000">500</text>
<text transform="translate(1459.49,1688.19) scale(1.0600,1)" font-family="'Liberation Sans',sans-serif" font-weight="normal" font-size="31.07" fill="#000">600</text>
<text transform="translate(1564.86,1688.19) scale(1.0600,1)" font-family="'Liberation Sans',sans-serif" font-weight="normal" font-size="31.07" fill="#000">700</text>
<text transform="translate(1670.38,1688.19) scale(1.0600,1)" font-family="'Liberation Sans',sans-serif" font-weight="normal" font-size="31.07" fill="#000">800</text>
<text transform="translate(1775.71,1688.19) scale(1.0600,1)" font-family="'Liberation Sans',sans-serif" font-weight="normal" font-size="31.07" fill="#000">900</text>
<text transform="translate(1871.45,1688.19) scale(1.0600,1)" font-family="'Liberation Sans',sans-serif" font-weight="normal" font-size="31.07" fill="#000">1000</text>
<polygon points="1205.8,1085.5 1216.2,1075.0 1226.7,1085.5 1216.2,1096.0" fill="#1a6dd6"/>
<rect x="1205.8" y="1116.5" width="20.9" height="20.2" rx="1" fill="#db1a16"/>
<polygon points="1205.8,1178.1 1216.2,1158.7 1226.7,1178.1" fill="#96dc14"/>
<circle cx="1216.2" cy="1210.0" r="10.3" fill="#6b25c8"/>
<line x1="1183.70" y1="1252.20" x2="1250.90" y2="1252.20" stroke="#000" stroke-width="5.5" stroke-linecap="round"/>
<text transform="translate(1258.21,1097.20) scale(0.9433,1)" font-family="'Liberation Sans',sans-serif" font-weight="normal" font-size="30.96" fill="#000">EXP= 308 K</text>
<text transform="translate(1258.11,1137.50) scale(0.9807,1)" font-family="'Liberation Sans',sans-serif" font-weight="normal" font-size="30.96" fill="#000">Exp= 318 K</text>
<text transform="translate(1258.11,1178.60) scale(0.9807,1)" font-family="'Liberation Sans',sans-serif" font-weight="normal" font-size="30.96" fill="#000">Exp= 328 K</text>
<text transform="translate(1258.11,1219.90) scale(0.9807,1)" font-family="'Liberation Sans',sans-serif" font-weight="normal" font-size="30.96" fill="#000">Exp= 338 K</text>
<text transform="translate(1257.90,1260.60) scale(1.0628,1)" font-family="'Liberation Sans',sans-serif" font-weight="normal" font-size="30.96" fill="#000">Model- Sodeifian et al.</text>
<text transform="translate(1077.50,1339.61) rotate(-90) scale(0.9500,1)" font-family="'Liberation Serif',serif" font-weight="bold" font-size="36.82" fill="#000">y * 10</text>
<text transform="translate(1067.20,1250.73) rotate(-90) scale(0.8640,1)" font-family="'Liberation Serif',serif" font-weight="bold" font-size="27.02" fill="#000">5</text>
<text transform="translate(1465.43,1739.00) scale(1.0812,1)" font-family="'Liberation Serif',serif" font-weight="bold" font-size="32.42" fill="#000">ρ (kg.m</text>
<text transform="translate(1580.17,1727.50) scale(1.0329,1)" font-family="'Liberation Serif',serif" font-weight="bold" font-size="22.21" fill="#000">-3</text>
<text transform="translate(1599.70,1739.00) scale(1.2553,1)" font-family="'Liberation Serif',serif" font-weight="bold" font-size="32.42" fill="#000">)</text>
<text transform="translate(1443.12,980.70) scale(1.0081,1)" font-family="'Liberation Serif',serif" font-weight="bold" font-size="41.64" fill="#000">d</text>
</g>
<line x1="1001.70" y1="2.40" x2="1001.70" y2="1761.00" stroke="#000" stroke-width="2.6" stroke-linecap="round"/>
<line x1="3.00" y1="939.60" x2="1999.00" y2="939.60" stroke="#000" stroke-width="2.6" stroke-linecap="round"/>
</svg></body></html>
